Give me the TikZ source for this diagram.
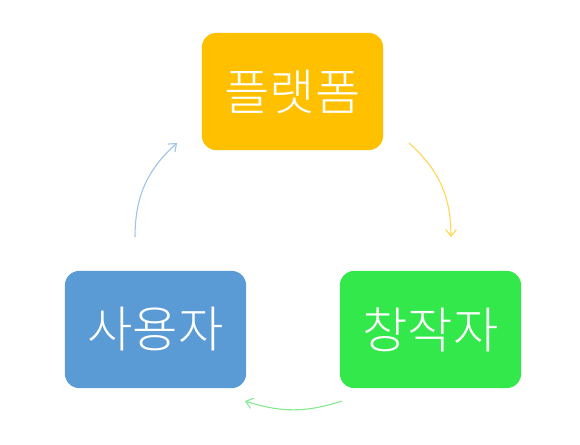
\documentclass[tikz,border=0pt]{standalone}
\usepackage{fontspec}
\setmainfont{Noto Sans CJK KR}[UprightFont=* Light]
\usetikzlibrary{arrows.meta}
\definecolor{cOrange}{HTML}{FFC000}
\definecolor{cBlue}{HTML}{5B9BD5}
\definecolor{cGreen}{HTML}{32E84B}
\definecolor{aBlue}{HTML}{9DC3E6}
\definecolor{aYellow}{HTML}{FFD54F}
\definecolor{aGreen}{HTML}{80EA8C}
\tikzset{
  box/.style={rounded corners=11pt, minimum width=136pt, minimum height=88pt,
    inner sep=0pt, text=white, font=\fontsize{37pt}{40pt}\selectfont},
  cyc/.style={line width=0.8pt, -{Straight Barb[length=5pt,width=8pt,line width=0.8pt]}}
}
\begin{document}
\begin{tikzpicture}[x=0.75pt,y=0.75pt]
\useasboundingbox (0,0) rectangle (580,444);
\node[box, fill=cOrange] (plat) at (292.5,352.5) {플랫폼};
\node[box, fill=cBlue] (user) at (155.5,114.5) {사용자};
\node[box, fill=cGreen] (crea) at (430.5,114.5) {창작자};
\coordinate (b1) at (135,207);
\coordinate (b2) at (177,301);
\coordinate (y1) at (409,301);
\coordinate (y2) at (451,207);
\coordinate (g1) at (342,43);
\coordinate (g2) at (245,43);
\draw[cyc, aBlue] (b1) to[bend left=24] (b2);
\draw[cyc, aYellow] (y1) to[bend left=24] (y2);
\draw[cyc, aGreen] (g1) to[bend left=18] (g2);
\end{tikzpicture}
\end{document}
